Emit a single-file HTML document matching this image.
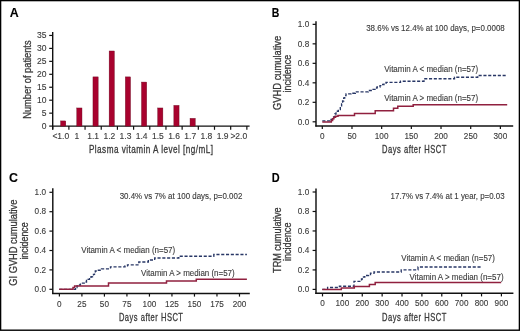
<!DOCTYPE html>
<html><head><meta charset="utf-8"><style>
html,body{margin:0;padding:0;background:#fff;}
svg{display:block;}
text{font-family:"Liberation Sans",sans-serif;}
svg{filter:blur(0.3px);}
</style></head><body>
<svg width="520" height="331" viewBox="0 0 520 331">
<rect x="0" y="0" width="520" height="331" fill="#fff"/>
<text x="9.80" y="17.00" font-size="12.4" text-anchor="start" fill="#000" stroke="#000" stroke-width="0.1" font-weight="bold">A</text>
<line x1="52.70" y1="31.90" x2="52.70" y2="129.40" stroke="#111" stroke-width="1.4"/>
<line x1="52.00" y1="126.10" x2="249.60" y2="126.10" stroke="#111" stroke-width="1.4"/>
<line x1="49.20" y1="126.10" x2="52.70" y2="126.10" stroke="#111" stroke-width="1.2"/>
<text x="46.40" y="129.00" font-size="8.5" text-anchor="end" fill="#3a3a3a" stroke="#3a3a3a" stroke-width="0.12">0</text>
<line x1="49.20" y1="113.15" x2="52.70" y2="113.15" stroke="#111" stroke-width="1.2"/>
<text x="46.40" y="116.05" font-size="8.5" text-anchor="end" fill="#3a3a3a" stroke="#3a3a3a" stroke-width="0.12">5</text>
<line x1="49.20" y1="100.20" x2="52.70" y2="100.20" stroke="#111" stroke-width="1.2"/>
<text x="46.40" y="103.10" font-size="8.5" text-anchor="end" fill="#3a3a3a" stroke="#3a3a3a" stroke-width="0.12">10</text>
<line x1="49.20" y1="87.25" x2="52.70" y2="87.25" stroke="#111" stroke-width="1.2"/>
<text x="46.40" y="90.15" font-size="8.5" text-anchor="end" fill="#3a3a3a" stroke="#3a3a3a" stroke-width="0.12">15</text>
<line x1="49.20" y1="74.30" x2="52.70" y2="74.30" stroke="#111" stroke-width="1.2"/>
<text x="46.40" y="77.20" font-size="8.5" text-anchor="end" fill="#3a3a3a" stroke="#3a3a3a" stroke-width="0.12">20</text>
<line x1="49.20" y1="61.35" x2="52.70" y2="61.35" stroke="#111" stroke-width="1.2"/>
<text x="46.40" y="64.25" font-size="8.5" text-anchor="end" fill="#3a3a3a" stroke="#3a3a3a" stroke-width="0.12">25</text>
<line x1="49.20" y1="48.40" x2="52.70" y2="48.40" stroke="#111" stroke-width="1.2"/>
<text x="46.40" y="51.30" font-size="8.5" text-anchor="end" fill="#3a3a3a" stroke="#3a3a3a" stroke-width="0.12">30</text>
<line x1="49.20" y1="35.45" x2="52.70" y2="35.45" stroke="#111" stroke-width="1.2"/>
<text x="46.40" y="38.35" font-size="8.5" text-anchor="end" fill="#3a3a3a" stroke="#3a3a3a" stroke-width="0.12">35</text>
<line x1="52.70" y1="126.10" x2="52.70" y2="129.80" stroke="#111" stroke-width="1.2"/>
<line x1="68.88" y1="126.10" x2="68.88" y2="129.80" stroke="#111" stroke-width="1.2"/>
<line x1="85.06" y1="126.10" x2="85.06" y2="129.80" stroke="#111" stroke-width="1.2"/>
<line x1="101.24" y1="126.10" x2="101.24" y2="129.80" stroke="#111" stroke-width="1.2"/>
<line x1="117.42" y1="126.10" x2="117.42" y2="129.80" stroke="#111" stroke-width="1.2"/>
<line x1="133.60" y1="126.10" x2="133.60" y2="129.80" stroke="#111" stroke-width="1.2"/>
<line x1="149.78" y1="126.10" x2="149.78" y2="129.80" stroke="#111" stroke-width="1.2"/>
<line x1="165.96" y1="126.10" x2="165.96" y2="129.80" stroke="#111" stroke-width="1.2"/>
<line x1="182.14" y1="126.10" x2="182.14" y2="129.80" stroke="#111" stroke-width="1.2"/>
<line x1="198.32" y1="126.10" x2="198.32" y2="129.80" stroke="#111" stroke-width="1.2"/>
<line x1="214.50" y1="126.10" x2="214.50" y2="129.80" stroke="#111" stroke-width="1.2"/>
<line x1="230.68" y1="126.10" x2="230.68" y2="129.80" stroke="#111" stroke-width="1.2"/>
<line x1="246.86" y1="126.10" x2="246.86" y2="129.80" stroke="#111" stroke-width="1.2"/>
<text x="60.80" y="139.10" font-size="8.5" text-anchor="middle" fill="#3a3a3a" stroke="#3a3a3a" stroke-width="0.12">&lt;1.0</text>
<rect x="60.60" y="120.92" width="5.2" height="5.18" fill="#a8022e" stroke="#6a0a20" stroke-width="0.4"/>
<text x="76.98" y="139.10" font-size="8.5" text-anchor="middle" fill="#3a3a3a" stroke="#3a3a3a" stroke-width="0.12">1</text>
<rect x="76.78" y="107.97" width="5.2" height="18.13" fill="#a8022e" stroke="#6a0a20" stroke-width="0.4"/>
<text x="93.16" y="139.10" font-size="8.5" text-anchor="middle" fill="#3a3a3a" stroke="#3a3a3a" stroke-width="0.12">1.1</text>
<rect x="92.96" y="76.89" width="5.2" height="49.21" fill="#a8022e" stroke="#6a0a20" stroke-width="0.4"/>
<text x="109.34" y="139.10" font-size="8.5" text-anchor="middle" fill="#3a3a3a" stroke="#3a3a3a" stroke-width="0.12">1.2</text>
<rect x="109.14" y="50.99" width="5.2" height="75.11" fill="#a8022e" stroke="#6a0a20" stroke-width="0.4"/>
<text x="125.52" y="139.10" font-size="8.5" text-anchor="middle" fill="#3a3a3a" stroke="#3a3a3a" stroke-width="0.12">1.3</text>
<rect x="125.32" y="76.89" width="5.2" height="49.21" fill="#a8022e" stroke="#6a0a20" stroke-width="0.4"/>
<text x="141.70" y="139.10" font-size="8.5" text-anchor="middle" fill="#3a3a3a" stroke="#3a3a3a" stroke-width="0.12">1.4</text>
<rect x="141.50" y="82.07" width="5.2" height="44.03" fill="#a8022e" stroke="#6a0a20" stroke-width="0.4"/>
<text x="157.88" y="139.10" font-size="8.5" text-anchor="middle" fill="#3a3a3a" stroke="#3a3a3a" stroke-width="0.12">1.5</text>
<rect x="157.68" y="107.97" width="5.2" height="18.13" fill="#a8022e" stroke="#6a0a20" stroke-width="0.4"/>
<text x="174.06" y="139.10" font-size="8.5" text-anchor="middle" fill="#3a3a3a" stroke="#3a3a3a" stroke-width="0.12">1.6</text>
<rect x="173.86" y="105.38" width="5.2" height="20.72" fill="#a8022e" stroke="#6a0a20" stroke-width="0.4"/>
<text x="190.24" y="139.10" font-size="8.5" text-anchor="middle" fill="#3a3a3a" stroke="#3a3a3a" stroke-width="0.12">1.7</text>
<rect x="190.04" y="118.33" width="5.2" height="7.77" fill="#a8022e" stroke="#6a0a20" stroke-width="0.4"/>
<text x="206.42" y="139.10" font-size="8.5" text-anchor="middle" fill="#3a3a3a" stroke="#3a3a3a" stroke-width="0.12">1.8</text>
<text x="222.60" y="139.10" font-size="8.5" text-anchor="middle" fill="#3a3a3a" stroke="#3a3a3a" stroke-width="0.12">1.9</text>
<text x="238.78" y="139.10" font-size="8.5" text-anchor="middle" fill="#3a3a3a" stroke="#3a3a3a" stroke-width="0.12">&gt;2.0</text>
<text x="88.90" y="152.80" font-size="10.3" text-anchor="start" fill="#3a3a3a" stroke="#3a3a3a" stroke-width="0.3" textLength="124.70" lengthAdjust="spacingAndGlyphs" letter-spacing="0.6">Plasma vitamin A level [ng/mL]</text>
<text transform="translate(31.00,79.60) rotate(-90)" font-size="10.3" text-anchor="middle" fill="#3a3a3a" stroke="#3a3a3a" stroke-width="0.3" textLength="78.30" lengthAdjust="spacingAndGlyphs">Number of patients</text>
<text x="271.80" y="16.90" font-size="12.4" text-anchor="start" fill="#000" stroke="#000" stroke-width="0.1" textLength="7.60" lengthAdjust="spacingAndGlyphs" font-weight="bold">B</text>
<line x1="316.00" y1="21.20" x2="316.00" y2="126.60" stroke="#111" stroke-width="1.45"/>
<line x1="315.30" y1="125.90" x2="513.20" y2="125.90" stroke="#111" stroke-width="1.45"/>
<line x1="312.60" y1="121.80" x2="316.00" y2="121.80" stroke="#111" stroke-width="1.2"/>
<text x="309.20" y="124.55" font-size="9.2" text-anchor="end" fill="#3a3a3a" stroke="#3a3a3a" stroke-width="0.12" textLength="11.40" lengthAdjust="spacingAndGlyphs">0.0</text>
<line x1="312.60" y1="102.31" x2="316.00" y2="102.31" stroke="#111" stroke-width="1.2"/>
<text x="309.20" y="105.06" font-size="9.2" text-anchor="end" fill="#3a3a3a" stroke="#3a3a3a" stroke-width="0.12" textLength="11.40" lengthAdjust="spacingAndGlyphs">0.2</text>
<line x1="312.60" y1="82.82" x2="316.00" y2="82.82" stroke="#111" stroke-width="1.2"/>
<text x="309.20" y="85.57" font-size="9.2" text-anchor="end" fill="#3a3a3a" stroke="#3a3a3a" stroke-width="0.12" textLength="11.40" lengthAdjust="spacingAndGlyphs">0.4</text>
<line x1="312.60" y1="63.33" x2="316.00" y2="63.33" stroke="#111" stroke-width="1.2"/>
<text x="309.20" y="66.08" font-size="9.2" text-anchor="end" fill="#3a3a3a" stroke="#3a3a3a" stroke-width="0.12" textLength="11.40" lengthAdjust="spacingAndGlyphs">0.6</text>
<line x1="312.60" y1="43.84" x2="316.00" y2="43.84" stroke="#111" stroke-width="1.2"/>
<text x="309.20" y="46.59" font-size="9.2" text-anchor="end" fill="#3a3a3a" stroke="#3a3a3a" stroke-width="0.12" textLength="11.40" lengthAdjust="spacingAndGlyphs">0.8</text>
<line x1="312.60" y1="24.35" x2="316.00" y2="24.35" stroke="#111" stroke-width="1.2"/>
<text x="309.20" y="27.10" font-size="9.2" text-anchor="end" fill="#3a3a3a" stroke="#3a3a3a" stroke-width="0.12" textLength="11.40" lengthAdjust="spacingAndGlyphs">1.0</text>
<line x1="322.30" y1="125.90" x2="322.30" y2="129.10" stroke="#111" stroke-width="1.2"/>
<text x="322.30" y="139.10" font-size="9.2" text-anchor="middle" fill="#3a3a3a" stroke="#3a3a3a" stroke-width="0.12" textLength="4.56" lengthAdjust="spacingAndGlyphs">0</text>
<line x1="351.98" y1="125.90" x2="351.98" y2="129.10" stroke="#111" stroke-width="1.2"/>
<text x="351.98" y="139.10" font-size="9.2" text-anchor="middle" fill="#3a3a3a" stroke="#3a3a3a" stroke-width="0.12" textLength="9.12" lengthAdjust="spacingAndGlyphs">50</text>
<line x1="381.66" y1="125.90" x2="381.66" y2="129.10" stroke="#111" stroke-width="1.2"/>
<text x="381.66" y="139.10" font-size="9.2" text-anchor="middle" fill="#3a3a3a" stroke="#3a3a3a" stroke-width="0.12" textLength="13.68" lengthAdjust="spacingAndGlyphs">100</text>
<line x1="411.34" y1="125.90" x2="411.34" y2="129.10" stroke="#111" stroke-width="1.2"/>
<text x="411.34" y="139.10" font-size="9.2" text-anchor="middle" fill="#3a3a3a" stroke="#3a3a3a" stroke-width="0.12" textLength="13.68" lengthAdjust="spacingAndGlyphs">150</text>
<line x1="441.02" y1="125.90" x2="441.02" y2="129.10" stroke="#111" stroke-width="1.2"/>
<text x="441.02" y="139.10" font-size="9.2" text-anchor="middle" fill="#3a3a3a" stroke="#3a3a3a" stroke-width="0.12" textLength="13.68" lengthAdjust="spacingAndGlyphs">200</text>
<line x1="470.70" y1="125.90" x2="470.70" y2="129.10" stroke="#111" stroke-width="1.2"/>
<text x="470.70" y="139.10" font-size="9.2" text-anchor="middle" fill="#3a3a3a" stroke="#3a3a3a" stroke-width="0.12" textLength="13.68" lengthAdjust="spacingAndGlyphs">250</text>
<line x1="500.38" y1="125.90" x2="500.38" y2="129.10" stroke="#111" stroke-width="1.2"/>
<text x="500.38" y="139.10" font-size="9.2" text-anchor="middle" fill="#3a3a3a" stroke="#3a3a3a" stroke-width="0.12" textLength="13.68" lengthAdjust="spacingAndGlyphs">300</text>
<text x="382.00" y="152.70" font-size="10.3" text-anchor="start" fill="#3a3a3a" stroke="#3a3a3a" stroke-width="0.3" textLength="64.90" lengthAdjust="spacingAndGlyphs" letter-spacing="0.7">Days after HSCT</text>
<text transform="translate(280.90,72.85) rotate(-90)" font-size="10.3" text-anchor="middle" fill="#3a3a3a" stroke="#3a3a3a" stroke-width="0.3" textLength="74.10" lengthAdjust="spacingAndGlyphs">GVHD cumulative</text>
<text transform="translate(291.30,73.65) rotate(-90)" font-size="10.3" text-anchor="middle" fill="#3a3a3a" stroke="#3a3a3a" stroke-width="0.3" textLength="37.50" lengthAdjust="spacingAndGlyphs">incidence</text>
<text x="366.20" y="30.70" font-size="8.5" text-anchor="start" fill="#3a3a3a" stroke="#3a3a3a" stroke-width="0.12" textLength="138.60" lengthAdjust="spacingAndGlyphs">38.6% vs 12.4% at 100 days, p=0.0008</text>
<text x="384.20" y="71.70" font-size="8.5" text-anchor="start" fill="#3a3a3a" stroke="#3a3a3a" stroke-width="0.12" textLength="93.90" lengthAdjust="spacingAndGlyphs">Vitamin A &lt; median (n=57)</text>
<text x="384.20" y="100.70" font-size="8.5" text-anchor="start" fill="#3a3a3a" stroke="#3a3a3a" stroke-width="0.12" textLength="93.90" lengthAdjust="spacingAndGlyphs">Vitamin A &gt; median (n=57)</text>
<path d="M322.3,120.8 H330 V119.3 H332.5 V117 H334.8 V114 H336 V111.2 H338.3 V109.5 H340.3 V106.8 H341.6 V103.8 H342.6 V101 H343.7 V98 H344.7 V95.6 H346 V93.8 H351 V93.2 H355.3 V91.8 H368.3 V90.5 H372 V89.3 H375 V88 H377 V87 H380 V85.6 H382 V84.5 H384 V83.4 H386 V82.4 H400.5 V81.2 H424 V78.7 H454.5 V77.2 H477.7 V75.5 H507.2" fill="none" stroke="#283766" stroke-width="1.35" stroke-dasharray="3.1 1.7"/>
<path d="M322.3,121.9 H331.3 V120.4 H332.6 V118.8 H333.9 V117.3 H335.6 V116.3 H338 V115.5 H354.5 V113.6 H375.2 V110.8 H393.5 V108.2 H397.8 V106.2 H413.2 V104.8 H507.2" fill="none" stroke="#90203f" stroke-width="1.5"/>
<text x="9.10" y="182.30" font-size="12.4" text-anchor="start" fill="#000" stroke="#000" stroke-width="0.1" font-weight="bold">C</text>
<line x1="52.80" y1="188.30" x2="52.80" y2="294.10" stroke="#111" stroke-width="1.45"/>
<line x1="52.10" y1="293.40" x2="249.80" y2="293.40" stroke="#111" stroke-width="1.45"/>
<line x1="49.40" y1="289.30" x2="52.80" y2="289.30" stroke="#111" stroke-width="1.2"/>
<text x="46.00" y="292.05" font-size="9.2" text-anchor="end" fill="#3a3a3a" stroke="#3a3a3a" stroke-width="0.12" textLength="11.40" lengthAdjust="spacingAndGlyphs">0.0</text>
<line x1="49.40" y1="269.90" x2="52.80" y2="269.90" stroke="#111" stroke-width="1.2"/>
<text x="46.00" y="272.65" font-size="9.2" text-anchor="end" fill="#3a3a3a" stroke="#3a3a3a" stroke-width="0.12" textLength="11.40" lengthAdjust="spacingAndGlyphs">0.2</text>
<line x1="49.40" y1="250.50" x2="52.80" y2="250.50" stroke="#111" stroke-width="1.2"/>
<text x="46.00" y="253.25" font-size="9.2" text-anchor="end" fill="#3a3a3a" stroke="#3a3a3a" stroke-width="0.12" textLength="11.40" lengthAdjust="spacingAndGlyphs">0.4</text>
<line x1="49.40" y1="231.10" x2="52.80" y2="231.10" stroke="#111" stroke-width="1.2"/>
<text x="46.00" y="233.85" font-size="9.2" text-anchor="end" fill="#3a3a3a" stroke="#3a3a3a" stroke-width="0.12" textLength="11.40" lengthAdjust="spacingAndGlyphs">0.6</text>
<line x1="49.40" y1="211.70" x2="52.80" y2="211.70" stroke="#111" stroke-width="1.2"/>
<text x="46.00" y="214.45" font-size="9.2" text-anchor="end" fill="#3a3a3a" stroke="#3a3a3a" stroke-width="0.12" textLength="11.40" lengthAdjust="spacingAndGlyphs">0.8</text>
<line x1="49.40" y1="192.30" x2="52.80" y2="192.30" stroke="#111" stroke-width="1.2"/>
<text x="46.00" y="195.05" font-size="9.2" text-anchor="end" fill="#3a3a3a" stroke="#3a3a3a" stroke-width="0.12" textLength="11.40" lengthAdjust="spacingAndGlyphs">1.0</text>
<line x1="59.40" y1="293.40" x2="59.40" y2="296.60" stroke="#111" stroke-width="1.2"/>
<text x="59.40" y="306.60" font-size="9.2" text-anchor="middle" fill="#3a3a3a" stroke="#3a3a3a" stroke-width="0.12" textLength="4.56" lengthAdjust="spacingAndGlyphs">0</text>
<line x1="81.91" y1="293.40" x2="81.91" y2="296.60" stroke="#111" stroke-width="1.2"/>
<text x="81.91" y="306.60" font-size="9.2" text-anchor="middle" fill="#3a3a3a" stroke="#3a3a3a" stroke-width="0.12" textLength="9.12" lengthAdjust="spacingAndGlyphs">25</text>
<line x1="104.42" y1="293.40" x2="104.42" y2="296.60" stroke="#111" stroke-width="1.2"/>
<text x="104.42" y="306.60" font-size="9.2" text-anchor="middle" fill="#3a3a3a" stroke="#3a3a3a" stroke-width="0.12" textLength="9.12" lengthAdjust="spacingAndGlyphs">50</text>
<line x1="126.93" y1="293.40" x2="126.93" y2="296.60" stroke="#111" stroke-width="1.2"/>
<text x="126.93" y="306.60" font-size="9.2" text-anchor="middle" fill="#3a3a3a" stroke="#3a3a3a" stroke-width="0.12" textLength="9.12" lengthAdjust="spacingAndGlyphs">75</text>
<line x1="149.44" y1="293.40" x2="149.44" y2="296.60" stroke="#111" stroke-width="1.2"/>
<text x="149.44" y="306.60" font-size="9.2" text-anchor="middle" fill="#3a3a3a" stroke="#3a3a3a" stroke-width="0.12" textLength="13.68" lengthAdjust="spacingAndGlyphs">100</text>
<line x1="171.95" y1="293.40" x2="171.95" y2="296.60" stroke="#111" stroke-width="1.2"/>
<text x="171.95" y="306.60" font-size="9.2" text-anchor="middle" fill="#3a3a3a" stroke="#3a3a3a" stroke-width="0.12" textLength="13.68" lengthAdjust="spacingAndGlyphs">125</text>
<line x1="194.46" y1="293.40" x2="194.46" y2="296.60" stroke="#111" stroke-width="1.2"/>
<text x="194.46" y="306.60" font-size="9.2" text-anchor="middle" fill="#3a3a3a" stroke="#3a3a3a" stroke-width="0.12" textLength="13.68" lengthAdjust="spacingAndGlyphs">150</text>
<line x1="216.97" y1="293.40" x2="216.97" y2="296.60" stroke="#111" stroke-width="1.2"/>
<text x="216.97" y="306.60" font-size="9.2" text-anchor="middle" fill="#3a3a3a" stroke="#3a3a3a" stroke-width="0.12" textLength="13.68" lengthAdjust="spacingAndGlyphs">175</text>
<line x1="239.48" y1="293.40" x2="239.48" y2="296.60" stroke="#111" stroke-width="1.2"/>
<text x="239.48" y="306.60" font-size="9.2" text-anchor="middle" fill="#3a3a3a" stroke="#3a3a3a" stroke-width="0.12" textLength="13.68" lengthAdjust="spacingAndGlyphs">200</text>
<text x="118.90" y="320.50" font-size="10.3" text-anchor="start" fill="#3a3a3a" stroke="#3a3a3a" stroke-width="0.3" textLength="64.60" lengthAdjust="spacingAndGlyphs" letter-spacing="0.7">Days after HSCT</text>
<text transform="translate(17.30,242.65) rotate(-90)" font-size="10.3" text-anchor="middle" fill="#3a3a3a" stroke="#3a3a3a" stroke-width="0.3" textLength="86.10" lengthAdjust="spacingAndGlyphs">GI GVHD cumulative</text>
<text transform="translate(27.80,241.00) rotate(-90)" font-size="10.3" text-anchor="middle" fill="#3a3a3a" stroke="#3a3a3a" stroke-width="0.3" textLength="37.20" lengthAdjust="spacingAndGlyphs">incidence</text>
<text x="119.70" y="198.80" font-size="8.5" text-anchor="start" fill="#3a3a3a" stroke="#3a3a3a" stroke-width="0.12" textLength="122.60" lengthAdjust="spacingAndGlyphs">30.4% vs 7% at 100 days, p=0.002</text>
<text x="81.25" y="252.70" font-size="8.5" text-anchor="start" fill="#3a3a3a" stroke="#3a3a3a" stroke-width="0.12" textLength="93.95" lengthAdjust="spacingAndGlyphs">Vitamin A &lt; median (n=57)</text>
<text x="141.10" y="275.90" font-size="8.5" text-anchor="start" fill="#3a3a3a" stroke="#3a3a3a" stroke-width="0.12" textLength="93.60" lengthAdjust="spacingAndGlyphs">Vitamin A &gt; median (n=57)</text>
<path d="M59.2,289.3 H75.5 V287.5 H77 V286 H78.6 V285 H80.4 V284.1 H82.5 V283.1 H85 V282 H86.5 V280.5 H88 V279.3 H89.5 V278 H91 V276.7 H92.5 V275.6 H93.5 V274.3 H94.5 V272.8 H95.3 V271 H97.2 V270.2 H101.5 V268.8 H110.5 V266.8 H125 V265.8 H127.5 V264.8 H138.8 V262 H148.3 V260 H154.7 V258 H178.8 V256.2 H213.8 V254.5 H246.9" fill="none" stroke="#283766" stroke-width="1.35" stroke-dasharray="3.1 1.7"/>
<path d="M59.2,289.3 H73 V287.6 H74.6 V286 H108.5 V283 H166.5 V281 H196.3 V279.2 H246.9" fill="none" stroke="#90203f" stroke-width="1.5"/>
<text x="271.80" y="182.00" font-size="12.4" text-anchor="start" fill="#000" stroke="#000" stroke-width="0.1" textLength="7.90" lengthAdjust="spacingAndGlyphs" font-weight="bold">D</text>
<line x1="316.00" y1="188.40" x2="316.00" y2="293.90" stroke="#111" stroke-width="1.45"/>
<line x1="315.30" y1="293.20" x2="513.40" y2="293.20" stroke="#111" stroke-width="1.45"/>
<line x1="312.60" y1="289.40" x2="316.00" y2="289.40" stroke="#111" stroke-width="1.2"/>
<text x="309.20" y="292.15" font-size="9.2" text-anchor="end" fill="#3a3a3a" stroke="#3a3a3a" stroke-width="0.12" textLength="11.40" lengthAdjust="spacingAndGlyphs">0.0</text>
<line x1="312.60" y1="269.92" x2="316.00" y2="269.92" stroke="#111" stroke-width="1.2"/>
<text x="309.20" y="272.67" font-size="9.2" text-anchor="end" fill="#3a3a3a" stroke="#3a3a3a" stroke-width="0.12" textLength="11.40" lengthAdjust="spacingAndGlyphs">0.2</text>
<line x1="312.60" y1="250.44" x2="316.00" y2="250.44" stroke="#111" stroke-width="1.2"/>
<text x="309.20" y="253.19" font-size="9.2" text-anchor="end" fill="#3a3a3a" stroke="#3a3a3a" stroke-width="0.12" textLength="11.40" lengthAdjust="spacingAndGlyphs">0.4</text>
<line x1="312.60" y1="230.96" x2="316.00" y2="230.96" stroke="#111" stroke-width="1.2"/>
<text x="309.20" y="233.71" font-size="9.2" text-anchor="end" fill="#3a3a3a" stroke="#3a3a3a" stroke-width="0.12" textLength="11.40" lengthAdjust="spacingAndGlyphs">0.6</text>
<line x1="312.60" y1="211.48" x2="316.00" y2="211.48" stroke="#111" stroke-width="1.2"/>
<text x="309.20" y="214.23" font-size="9.2" text-anchor="end" fill="#3a3a3a" stroke="#3a3a3a" stroke-width="0.12" textLength="11.40" lengthAdjust="spacingAndGlyphs">0.8</text>
<line x1="312.60" y1="192.00" x2="316.00" y2="192.00" stroke="#111" stroke-width="1.2"/>
<text x="309.20" y="194.75" font-size="9.2" text-anchor="end" fill="#3a3a3a" stroke="#3a3a3a" stroke-width="0.12" textLength="11.40" lengthAdjust="spacingAndGlyphs">1.0</text>
<line x1="322.50" y1="293.20" x2="322.50" y2="296.40" stroke="#111" stroke-width="1.2"/>
<text x="322.50" y="306.40" font-size="9.2" text-anchor="middle" fill="#3a3a3a" stroke="#3a3a3a" stroke-width="0.12" textLength="4.56" lengthAdjust="spacingAndGlyphs">0</text>
<line x1="342.38" y1="293.20" x2="342.38" y2="296.40" stroke="#111" stroke-width="1.2"/>
<text x="342.38" y="306.40" font-size="9.2" text-anchor="middle" fill="#3a3a3a" stroke="#3a3a3a" stroke-width="0.12" textLength="13.68" lengthAdjust="spacingAndGlyphs">100</text>
<line x1="362.26" y1="293.20" x2="362.26" y2="296.40" stroke="#111" stroke-width="1.2"/>
<text x="362.26" y="306.40" font-size="9.2" text-anchor="middle" fill="#3a3a3a" stroke="#3a3a3a" stroke-width="0.12" textLength="13.68" lengthAdjust="spacingAndGlyphs">200</text>
<line x1="382.14" y1="293.20" x2="382.14" y2="296.40" stroke="#111" stroke-width="1.2"/>
<text x="382.14" y="306.40" font-size="9.2" text-anchor="middle" fill="#3a3a3a" stroke="#3a3a3a" stroke-width="0.12" textLength="13.68" lengthAdjust="spacingAndGlyphs">300</text>
<line x1="402.02" y1="293.20" x2="402.02" y2="296.40" stroke="#111" stroke-width="1.2"/>
<text x="402.02" y="306.40" font-size="9.2" text-anchor="middle" fill="#3a3a3a" stroke="#3a3a3a" stroke-width="0.12" textLength="13.68" lengthAdjust="spacingAndGlyphs">400</text>
<line x1="421.90" y1="293.20" x2="421.90" y2="296.40" stroke="#111" stroke-width="1.2"/>
<text x="421.90" y="306.40" font-size="9.2" text-anchor="middle" fill="#3a3a3a" stroke="#3a3a3a" stroke-width="0.12" textLength="13.68" lengthAdjust="spacingAndGlyphs">500</text>
<line x1="441.78" y1="293.20" x2="441.78" y2="296.40" stroke="#111" stroke-width="1.2"/>
<text x="441.78" y="306.40" font-size="9.2" text-anchor="middle" fill="#3a3a3a" stroke="#3a3a3a" stroke-width="0.12" textLength="13.68" lengthAdjust="spacingAndGlyphs">600</text>
<line x1="461.66" y1="293.20" x2="461.66" y2="296.40" stroke="#111" stroke-width="1.2"/>
<text x="461.66" y="306.40" font-size="9.2" text-anchor="middle" fill="#3a3a3a" stroke="#3a3a3a" stroke-width="0.12" textLength="13.68" lengthAdjust="spacingAndGlyphs">700</text>
<line x1="481.54" y1="293.20" x2="481.54" y2="296.40" stroke="#111" stroke-width="1.2"/>
<text x="481.54" y="306.40" font-size="9.2" text-anchor="middle" fill="#3a3a3a" stroke="#3a3a3a" stroke-width="0.12" textLength="13.68" lengthAdjust="spacingAndGlyphs">800</text>
<line x1="501.42" y1="293.20" x2="501.42" y2="296.40" stroke="#111" stroke-width="1.2"/>
<text x="501.42" y="306.40" font-size="9.2" text-anchor="middle" fill="#3a3a3a" stroke="#3a3a3a" stroke-width="0.12" textLength="13.68" lengthAdjust="spacingAndGlyphs">900</text>
<text x="382.00" y="320.50" font-size="10.3" text-anchor="start" fill="#3a3a3a" stroke="#3a3a3a" stroke-width="0.3" textLength="64.90" lengthAdjust="spacingAndGlyphs" letter-spacing="0.7">Days after HSCT</text>
<text transform="translate(280.90,240.15) rotate(-90)" font-size="10.3" text-anchor="middle" fill="#3a3a3a" stroke="#3a3a3a" stroke-width="0.3" textLength="65.50" lengthAdjust="spacingAndGlyphs">TRM cumulative</text>
<text transform="translate(291.40,241.80) rotate(-90)" font-size="10.3" text-anchor="middle" fill="#3a3a3a" stroke="#3a3a3a" stroke-width="0.3" textLength="38.60" lengthAdjust="spacingAndGlyphs">incidence</text>
<text x="390.60" y="198.50" font-size="8.5" text-anchor="start" fill="#3a3a3a" stroke="#3a3a3a" stroke-width="0.12" textLength="114.00" lengthAdjust="spacingAndGlyphs">17.7% vs 7.4% at 1 year, p=0.03</text>
<text x="401.30" y="260.60" font-size="8.5" text-anchor="start" fill="#3a3a3a" stroke="#3a3a3a" stroke-width="0.12" textLength="93.60" lengthAdjust="spacingAndGlyphs">Vitamin A &lt; median (n=57)</text>
<text x="409.60" y="279.90" font-size="8.5" text-anchor="start" fill="#3a3a3a" stroke="#3a3a3a" stroke-width="0.12" textLength="94.00" lengthAdjust="spacingAndGlyphs">Vitamin A &gt; median (n=57)</text>
<path d="M322.3,289.4 H327.6 V287.5 H339.4 V286.2 H354 V281.3 H361.5 V279 H363.5 V277 H364.8 V275.5 H368.5 V274.5 H370.5 V273.2 H374 V272 H401.2 V269.8 H418 V267 H480.6" fill="none" stroke="#283766" stroke-width="1.35" stroke-dasharray="3.1 1.7"/>
<path d="M322.3,289.4 H341.3 V288 H354.3 V286.4 H369.4 V284.6 H375.2 V282.5 H501.2" fill="none" stroke="#90203f" stroke-width="1.5"/>
<rect x="0.6" y="0.6" width="518.8" height="329.6" fill="none" stroke="#000" stroke-width="1.4"/>
</svg>
</body></html>
